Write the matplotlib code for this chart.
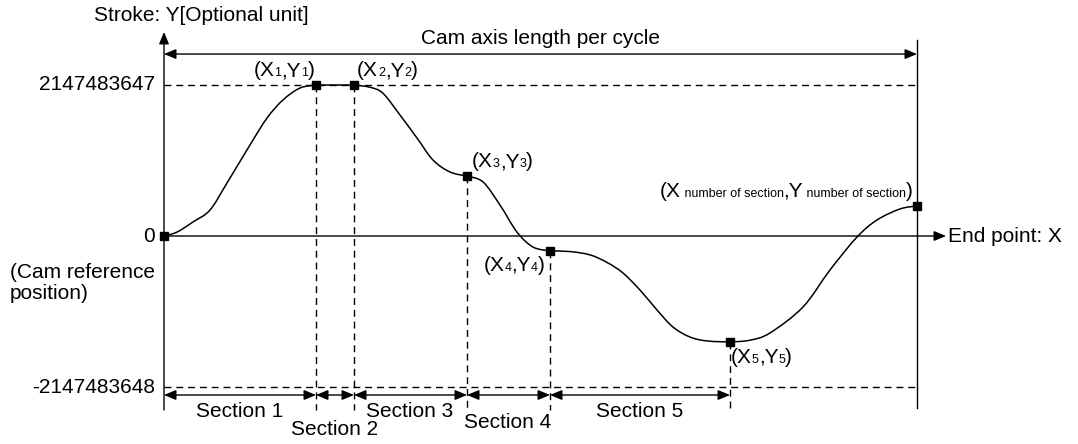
import numpy as np
import matplotlib
matplotlib.use("Agg")
import matplotlib.pyplot as plt
from matplotlib.path import Path
from matplotlib.patches import PathPatch
from matplotlib.offsetbox import TextArea, HPacker, AnnotationBbox

FONT = "Liberation Sans"
plt.rcParams['font.family'] = [FONT, 'DejaVu Sans']

# ---- data (x: cam axis position, arbitrary units; y: stroke / 2147483647) ----
point_x = [0, 152, 190, 303, 386, 566, 753]
point_y = [0, 1, 1, 0.397, -0.099, -0.702, 0.199]

# curve, one list per section (ends on the points above)
curve_x = [[0, 13, 29, 46, 63, 86, 103, 119, 136, 152],
           [152, 190],
           [190, 206, 219, 236, 253, 269, 286, 303],
           [303, 319, 336, 353, 369, 386],
           [386, 406, 426, 443, 459, 476, 493, 509, 526, 543, 566],
           [566, 586, 606, 639, 666, 693, 713, 736, 753]]
curve_y = [[0, 0.026, 0.093, 0.172, 0.351, 0.603, 0.781, 0.901, 0.980, 1],
           [1, 1],
           [1, 0.985, 0.945, 0.801, 0.649, 0.503, 0.424, 0.397],
           [0.397, 0.358, 0.205, 0.026, -0.073, -0.099],
           [-0.099, -0.103, -0.125, -0.175, -0.245, -0.358, -0.490, -0.603, -0.669, -0.695, -0.702],
           [-0.702, -0.69, -0.642, -0.470, -0.225, -0.007, 0.106, 0.179, 0.199]]

y_ticks = [1, 0, -1]
y_tick_labels = ["2147483647", "0", "-2147483648"]
section_names = ["Section 1", "Section 2", "Section 3", "Section 4", "Section 5"]

fig = plt.figure(figsize=(10.78, 4.44), dpi=100)
ax = fig.add_axes([0, 0, 1, 1])
ax.set_xlim(-164, 914)
ax.set_ylim(-208 / 151, 236 / 151)
ax.axis('off')

lw = 1.0
dash = (0, (5, 3.5))
x_end = point_x[-1]
y_bot = -1.152
head = '-|>,head_length=0.6,head_width=0.25'
head2 = '<|-|>,head_length=0.6,head_width=0.25'


def arrow(p0, p1, style):
    ax.annotate('', xy=p1, xytext=p0,
                arrowprops=dict(arrowstyle=style, mutation_scale=12, lw=lw,
                                color='black', shrinkA=0, shrinkB=0))


# axes
arrow((0, y_bot), (0, 1.351), head)
arrow((0, 0), (782, 0), head)
ax.plot([x_end, x_end], [1.298, -1.139], color='black', lw=lw)

# cam axis length arrow
arrow((0, 1.205), (x_end, 1.205), head2)
ax.text(x_end / 2, 1.31, "Cam axis length per cycle", fontsize=15, ha='center', va='center')

# dashed limits
ax.plot([0, x_end], [1, 1], color='black', lw=lw, ls=dash)
ax.plot([0, x_end], [-1, -1], color='black', lw=lw, ls=dash)
for px, py in zip(point_x[1:-1], point_y[1:-1]):
    ax.plot([px, px], [py, y_bot], color='black', lw=lw, ls=dash)

# tick labels
for v, s in zip(y_ticks, y_tick_labels):
    ax.text(-9, v, s, fontsize=15, ha='right', va='center')
ax.text(-154, -0.18, "(Cam reference\nposition)", fontsize=15, ha='left', va='top',
        linespacing=1.15)
ax.text(37, 1.46, "Stroke: Y[Optional unit]", fontsize=15, ha='center', va='center')
ax.text(784, 0, "End point: X", fontsize=15, ha='left', va='center')


# curve: smooth (Catmull-Rom as cubic Bezier) through the read points
def smooth_path(xs, ys):
    p = np.column_stack([xs, ys]).astype(float)
    verts = [p[0]]
    codes = [Path.MOVETO]
    n = len(p)
    for i in range(n - 1):
        p_prev = p[i - 1] if i > 0 else p[i]
        p_next = p[i + 2] if i + 2 < n else p[i + 1]
        c1 = p[i] + (p[i + 1] - p_prev) / 6
        c2 = p[i + 1] - (p_next - p[i]) / 6
        verts += [c1, c2, p[i + 1]]
        codes += [Path.CURVE4] * 3
    return Path(verts, codes)


for xs, ys in zip(curve_x, curve_y):
    ax.add_patch(PathPatch(smooth_path(xs, ys), fill=False, ec='black', lw=1.1))
ax.plot(point_x, point_y, 's', color='black', ms=6, zorder=5)

# section arrows
for i in range(len(section_names)):
    arrow((point_x[i], -1.053), (point_x[i + 1], -1.053), head2)
sec_lx = [76, 171, 246, 344, 476]
sec_ly = [-1.16, -1.28, -1.16, -1.233, -1.16]
for name, lx, ly in zip(section_names, sec_lx, sec_ly):
    ax.text(lx, ly, name, fontsize=15, ha='center', va='center')


def point_label(xy, parts, align):
    boxes = [TextArea(s, textprops=dict(fontsize=fs, family=FONT)) for s, fs in parts]
    pack = HPacker(children=boxes, align="baseline", pad=0, sep=0)
    ab = AnnotationBbox(pack, xy, box_alignment=align, frameon=False, pad=0,
                        xycoords='data')
    ax.add_artist(ab)


def xy_parts(a, b):
    return [("(X", 15), (a, 9), (",Y", 15), (b, 9), (")", 15)]


point_label((120, 1.03), xy_parts("1", "1"), (0.5, 0))
point_label((193, 1.03), xy_parts("2", "2"), (0, 0))
point_label((308, 0.43), xy_parts("3", "3"), (0, 0))
point_label((381, -0.13), xy_parts("4", "4"), (1, 1))
point_label((567, -0.74), xy_parts("5", "5"), (0, 1))
point_label((749, 0.235), [("(X", 15), (" number of section", 9), (",Y", 15),
                           (" number of section", 9), (")", 15)], (1, 0))

fig.savefig("out.png", dpi=100)
